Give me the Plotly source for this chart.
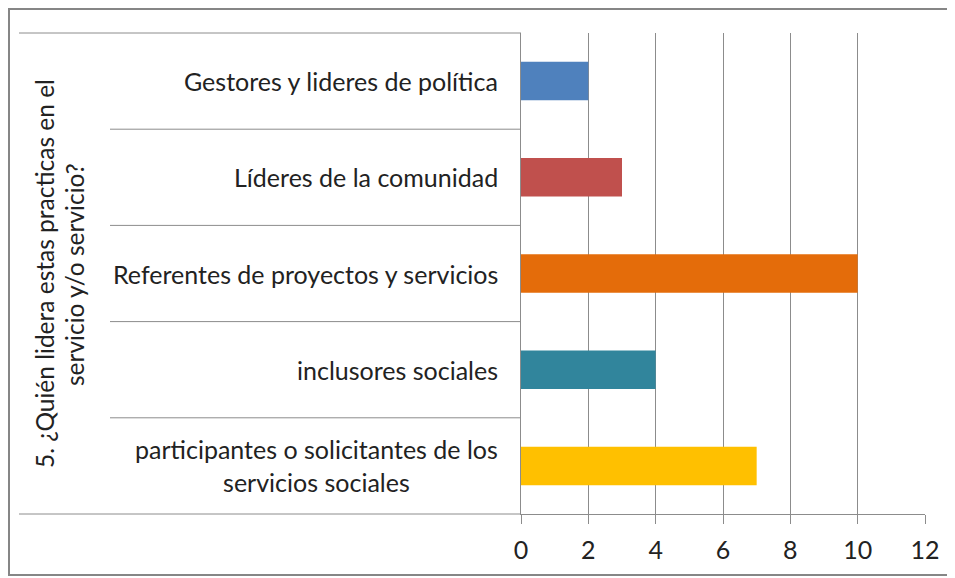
import plotly.graph_objects as go

# Data
categorias = [
    "Gestores y lideres de política",
    "Líderes de la comunidad",
    "Referentes de proyectos y servicios",
    "inclusores sociales",
    "participantes o solicitantes de los servicios sociales",
]
etiquetas = [
    "Gestores y lideres de política",
    "Líderes de la comunidad",
    "Referentes de proyectos y servicios",
    "inclusores sociales",
    "participantes o solicitantes de los<br>servicios sociales",
]
valores = [2, 3, 10, 4, 7]
colores = ["#4F81BD", "#C0504D", "#E46C0A", "#31859C", "#FFC000"]
titulo_lineas = ["5. ¿Quién lidera estas practicas en el", "servicio y/o servicio?"]
x_ticks = [0, 2, 4, 6, 8, 10, 12]

# the page body adds an 8px margin, so the figure is sized/offset for it
OFF = 8
W, H = 955 - OFF, 578 - OFF
L, T = 521 - OFF, 33 - OFF
R = W - (925 - OFF)
B = H - (514 - OFF)
FONT = "Lato"
GRIS = "#8c8c8c"
TEXTO = "#222222"


def px_x(px):
    # page pixel -> paper x
    return (px - OFF - L) / (W - L - R)


def px_y(py):
    # page pixel -> paper y
    return (H - B - (py - OFF)) / (H - T - B)


fig = go.Figure()

fig.add_trace(go.Bar(
    y=categorias,
    x=valores,
    orientation="h",
    marker=dict(color=colores, line=dict(width=0)),
    showlegend=False,
))

# category labels, centred like the Excel axis
for cat, lab in zip(categorias, etiquetas):
    fig.add_annotation(
        x=px_x(500), y=cat, xref="paper", yref="y",
        text=lab, showarrow=False, xanchor="right", align="center",
        font=dict(family=FONT, size=25, color=TEXTO),
    )

# rotated outer group title, one annotation per line
for linea, xpx in zip(titulo_lineas, (44, 74)):
    fig.add_annotation(
        x=px_x(xpx), y=px_y(274), xref="paper", yref="paper",
        text=linea, showarrow=False, textangle=-90,
        xanchor="center", yanchor="middle",
        font=dict(family=FONT, size=24.5, color=TEXTO),
    )

shapes = []
# separators between categories (long tick marks of the category axis)
for k in range(1, len(categorias)):
    shapes.append(dict(type="line", xref="paper", yref="y",
                       x0=px_x(110), x1=0, y0=k - 0.5, y1=k - 0.5,
                       line=dict(color=GRIS, width=1)))
# outer group top/bottom lines
for yy in (0, 1):
    shapes.append(dict(type="line", xref="paper", yref="paper",
                       x0=px_x(19), x1=0, y0=yy, y1=yy,
                       line=dict(color=GRIS, width=1)))
# chart border
shapes.append(dict(type="rect", xref="paper", yref="paper",
                   x0=px_x(OFF + 1), x1=px_x(952), y0=px_y(575), y1=px_y(OFF + 1),
                   line=dict(color="#868686", width=2)))

fig.update_layout(
    width=W, height=H,
    margin=dict(l=L, r=R, t=T, b=B),
    paper_bgcolor="white", plot_bgcolor="white",
    bargap=0.6,
    shapes=shapes,
    font=dict(family=FONT, size=25, color=TEXTO),
)

fig.update_xaxes(
    range=[0, 12], tickvals=x_ticks,
    showgrid=True, gridcolor=GRIS, gridwidth=1,
    showline=True, linecolor=GRIS, linewidth=1,
    ticks="outside", ticklen=9, tickcolor=GRIS,
    ticklabelstandoff=5,
    zeroline=False,
    tickfont=dict(family=FONT, size=25, color=TEXTO),
)
fig.update_yaxes(
    autorange="reversed",
    showticklabels=False,
    showline=True, linecolor=GRIS, linewidth=1,
    showgrid=False, ticks="",
)

fig.write_html("out.html")
